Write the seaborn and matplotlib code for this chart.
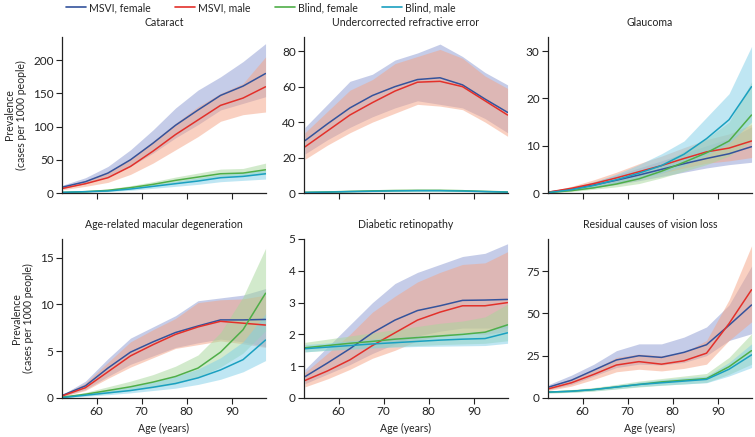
import numpy as np
import pandas as pd
import matplotlib.pyplot as plt
import seaborn as sns

# Age groups (midpoints)
ages = [52.5, 57.5, 62.5, 67.5, 72.5, 77.5, 82.5, 87.5, 92.5, 97.5]
series = ["MSVI, female", "MSVI, male", "Blind, female", "Blind, male"]
panels = ["Cataract", "Undercorrected refractive error", "Glaucoma",
          "Age-related macular degeneration", "Diabetic retinopathy",
          "Residual causes of vision loss"]

# each list: [MSVI female, MSVI male, Blind female, Blind male]
cataract_mean = [[9, 17, 30, 50, 75, 102, 125, 147, 161, 180],
                 [7, 14, 23, 40, 63, 88, 110, 132, 143, 160],
                 [1, 2, 4, 8, 13, 19, 24, 29, 30, 35],
                 [1, 2, 3, 6, 10, 14, 18, 23, 25, 29]]
cataract_low = [[7, 14, 24, 40, 60, 83, 103, 125, 135, 145],
                [5, 10, 16, 28, 45, 65, 85, 108, 118, 122],
                [0.5, 1, 3, 6, 10, 15, 19, 24, 25, 28],
                [0.5, 1, 2, 4, 7, 10, 13, 17, 19, 21]]
cataract_high = [[12, 23, 40, 65, 95, 128, 155, 175, 198, 225],
                 [10, 19, 32, 52, 78, 105, 130, 150, 165, 205],
                 [2, 3, 6, 11, 17, 24, 30, 36, 37, 45],
                 [1.5, 3, 5, 8, 13, 18, 23, 28, 30, 35]]

refr_mean = [[29.5, 39, 48, 55, 60, 64, 65, 61, 53, 45.5],
             [26, 35, 44, 51, 57.5, 62.5, 63, 60, 52, 44],
             [0.4, 0.6, 0.9, 1.2, 1.4, 1.5, 1.5, 1.3, 0.9, 0.6],
             [0.3, 0.5, 0.8, 1.0, 1.2, 1.3, 1.3, 1.1, 0.8, 0.5]]
refr_low = [[22, 30, 37, 43, 48, 52, 50, 48, 42, 34],
            [19, 27, 34, 40, 45, 50, 49, 47, 40, 32],
            [0.2, 0.3, 0.5, 0.8, 1.0, 1.1, 1.1, 0.9, 0.6, 0.3],
            [0.1, 0.3, 0.5, 0.7, 0.9, 1.0, 1.0, 0.8, 0.5, 0.3]]
refr_high = [[37, 50, 63, 67, 75, 79, 84, 77, 68, 61],
             [34, 46, 58, 64, 73, 77, 81, 76, 66, 59],
             [0.7, 0.9, 1.3, 1.6, 1.9, 2.0, 2.0, 1.8, 1.3, 0.9],
             [0.5, 0.8, 1.1, 1.4, 1.6, 1.7, 1.7, 1.5, 1.1, 0.8]]

glauc_mean = [[0.2, 0.8, 1.7, 2.7, 3.8, 5.0, 6.2, 7.3, 8.3, 9.8],
              [0.2, 1.0, 2.0, 3.2, 4.5, 5.8, 7.3, 8.7, 9.5, 11.0],
              [0.1, 0.5, 1.1, 1.9, 3.0, 4.6, 6.5, 8.5, 11.0, 16.5],
              [0.1, 0.7, 1.6, 2.8, 4.2, 5.8, 8.2, 11.5, 15.5, 22.5]]
glauc_low = [[0.1, 0.5, 1.1, 1.8, 2.6, 3.5, 4.4, 5.3, 6.0, 6.5],
             [0.1, 0.7, 1.4, 2.2, 3.2, 4.2, 5.3, 6.3, 6.8, 7.5],
             [0.05, 0.3, 0.8, 1.3, 2.0, 3.2, 4.6, 6.0, 7.8, 11],
             [0.05, 0.5, 1.1, 2.0, 3.0, 4.2, 5.8, 8.0, 10.5, 15]]
glauc_high = [[0.3, 1.2, 2.4, 3.8, 5.3, 6.8, 8.4, 10, 11.5, 14],
              [0.3, 1.4, 2.8, 4.4, 6.2, 7.8, 9.6, 11.3, 12.5, 14.5],
              [0.2, 0.8, 1.5, 2.6, 4.2, 6.2, 8.8, 11.5, 15, 23.5],
              [0.2, 1.0, 2.3, 4.0, 6.0, 8.3, 11, 16, 21, 31]]

amd_mean = [[0.3, 1.3, 3.2, 4.9, 6.0, 7.0, 7.7, 8.35, 8.35, 8.4],
            [0.25, 1.1, 2.8, 4.5, 5.7, 6.8, 7.6, 8.2, 8.0, 7.8],
            [0.1, 0.4, 0.8, 1.2, 1.7, 2.3, 3.2, 4.9, 7.3, 11.2],
            [0.05, 0.3, 0.55, 0.8, 1.15, 1.55, 2.15, 3.0, 4.1, 6.2]]
amd_low = [[0.2, 0.9, 2.3, 3.6, 4.5, 5.4, 5.9, 6.3, 6.0, 5.5],
           [0.15, 0.8, 2.1, 3.3, 4.3, 5.3, 5.7, 6.1, 5.8, 5.4],
           [0.05, 0.25, 0.5, 0.8, 1.1, 1.5, 2.2, 3.3, 4.8, 7.2],
           [0.03, 0.18, 0.35, 0.55, 0.8, 1.05, 1.45, 2.0, 2.8, 4.0]]
amd_high = [[0.4, 1.8, 4.2, 6.4, 7.6, 8.8, 10.4, 10.7, 11.0, 11.7],
            [0.35, 1.6, 3.8, 6.0, 7.3, 8.5, 10.2, 10.5, 10.6, 11.0],
            [0.15, 0.6, 1.2, 1.8, 2.5, 3.4, 4.6, 7.0, 10.8, 16],
            [0.1, 0.45, 0.8, 1.2, 1.7, 2.3, 3.1, 4.3, 6.0, 9.0]]

dr_mean = [[0.67, 1.1, 1.55, 2.05, 2.45, 2.75, 2.9, 3.07, 3.08, 3.1],
           [0.55, 0.85, 1.2, 1.65, 2.05, 2.45, 2.7, 2.9, 2.9, 3.0],
           [1.58, 1.65, 1.72, 1.78, 1.85, 1.9, 1.95, 2.0, 2.07, 2.3],
           [1.55, 1.6, 1.65, 1.7, 1.74, 1.78, 1.82, 1.85, 1.87, 2.05]]
dr_low = [[0.45, 0.75, 1.05, 1.4, 1.7, 1.95, 2.1, 2.2, 2.2, 2.2],
          [0.35, 0.6, 0.9, 1.25, 1.5, 1.8, 1.95, 2.05, 2.0, 2.1],
          [1.45, 1.5, 1.55, 1.58, 1.62, 1.65, 1.68, 1.7, 1.72, 1.8],
          [1.45, 1.5, 1.53, 1.57, 1.6, 1.62, 1.63, 1.64, 1.65, 1.72]]
dr_high = [[0.9, 1.6, 2.3, 3.0, 3.6, 3.95, 4.2, 4.45, 4.55, 4.85],
           [0.8, 1.4, 2.0, 2.7, 3.2, 3.65, 3.95, 4.2, 4.25, 4.6],
           [1.75, 1.85, 1.95, 2.05, 2.15, 2.25, 2.35, 2.42, 2.55, 2.95],
           [1.68, 1.73, 1.8, 1.85, 1.9, 1.95, 2.0, 2.05, 2.1, 2.35]]

resid_mean = [[6.5, 10.5, 16.5, 22.5, 25, 24, 27, 31.5, 43, 55],
              [5.5, 9, 14, 19.5, 21.5, 20, 22, 26.5, 44, 64],
              [3.5, 4, 5, 6.5, 8, 9.5, 10.5, 11.5, 18.5, 28],
              [3.5, 4, 5, 6.5, 8, 9, 10, 11, 17, 25.5]]
resid_low = [[5, 8, 13, 18, 20, 19.5, 21, 25, 34, 38],
             [4.5, 7, 11, 15.5, 17, 16, 17.5, 20, 34, 45],
             [3, 3.3, 4.1, 5.3, 6.5, 7.5, 8.3, 9.2, 14, 20],
             [3, 3.4, 4.3, 5.5, 6.8, 7.6, 8.3, 9, 13, 18]]
resid_high = [[8, 13.5, 20, 28, 32, 32, 36, 42, 55, 78],
              [7, 11.5, 17, 24, 26, 25, 27, 34, 58, 90],
              [4.2, 5, 6.2, 8, 10, 11.5, 13, 14.5, 24, 38],
              [4, 4.7, 5.8, 7.6, 9.4, 10.8, 12, 13, 21, 32]]

y_limits = [235, 88, 33, 17, 5, 94]
y_ticks = [[0, 50, 100, 150, 200], [0, 20, 40, 60, 80], [0, 10, 20, 30],
           [0, 5, 10, 15], [0, 1, 2, 3, 4, 5], [0, 25, 50, 75]]

line_colors = ["#34539c", "#e3302a", "#4fae48", "#1aa0c0"]
band_colors = ["#8c9ad2", "#f5a384", "#a6d79a", "#80cfe8"]

panel_data = [(cataract_mean, cataract_low, cataract_high),
              (refr_mean, refr_low, refr_high),
              (glauc_mean, glauc_low, glauc_high),
              (amd_mean, amd_low, amd_high),
              (dr_mean, dr_low, dr_high),
              (resid_mean, resid_low, resid_high)]

sns.set_style("ticks")
plt.rcParams["font.family"] = ["Lato", "DejaVu Sans"]

fig = plt.figure(figsize=(7.55, 4.37), dpi=100)
W, H = 755, 437
lefts = [62, 304, 548]
width = 204
rows = [(37, 193), (239, 398)]

palette = dict(zip(series, line_colors))

for i, name in enumerate(panels):
    r, c = divmod(i, 3)
    top, bot = rows[r]
    ax = fig.add_axes([lefts[c] / W, 1 - bot / H, width / W, (bot - top) / H])
    mean, low, high = panel_data[i]

    rows_df = []
    for s, vals in zip(series, mean):
        for a, v in zip(ages, vals):
            rows_df.append({"Age": a, "Prevalence": v, "Series": s})
    df = pd.DataFrame(rows_df)

    for k in range(4):
        ax.fill_between(ages, low[k], high[k], color=band_colors[k],
                        alpha=0.5, lw=0)
    sns.lineplot(data=df, x="Age", y="Prevalence", hue="Series",
                 palette=palette, hue_order=series, lw=1.1,
                 legend=False, ax=ax)

    ax.set_xlim(52.3, 97.6)
    ax.set_ylim(0, y_limits[i])
    ax.set_xticks([60, 70, 80, 90])
    ax.set_yticks(y_ticks[i])
    ax.set_title(name, fontsize=7.6, pad=8, color="#222222")
    ax.tick_params(labelsize=8.5, length=4, width=0.8, colors="#222222",
                   pad=2)
    for sp in ["left", "bottom"]:
        ax.spines[sp].set_linewidth(0.9)
        ax.spines[sp].set_color("#222222")
    sns.despine(ax=ax)

    if r == 0:
        ax.set_xticklabels([])
        ax.set_xlabel("")
    else:
        ax.set_xlabel("Age (years)", fontsize=7.6, labelpad=4)
    if c == 0:
        ax.set_ylabel("Prevalence\n(cases per 1000 people)", fontsize=7.6,
                      labelpad=4)
    else:
        ax.set_ylabel("")

handles = [plt.Line2D([], [], color=col, lw=1.2) for col in line_colors]
fig.legend(handles, series, loc="upper left", bbox_to_anchor=(56 / W, 1.017),
           ncol=4, frameon=False, fontsize=7.6, handlelength=1.9,
           handletextpad=0.3, columnspacing=2.3)

plt.savefig("out.png", dpi=100)
